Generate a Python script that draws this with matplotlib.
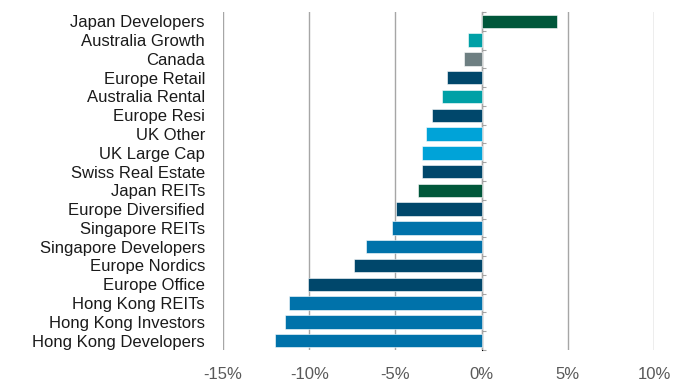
import matplotlib
matplotlib.use("Agg")
import matplotlib.pyplot as plt
from matplotlib.ticker import FuncFormatter

categories = [
    "Japan Developers", "Australia Growth", "Canada", "Europe Retail",
    "Australia Rental", "Europe Resi", "UK Other", "UK Large Cap",
    "Swiss Real Estate", "Japan REITs", "Europe Diversified", "Singapore REITs",
    "Singapore Developers", "Europe Nordics", "Europe Office", "Hong Kong REITs",
    "Hong Kong Investors", "Hong Kong Developers",
]
values = [4.4, -0.8, -1.0, -2.0, -2.3, -2.9, -3.2, -3.45, -3.45, -3.7,
          -4.95, -5.2, -6.7, -7.4, -10.05, -11.2, -11.4, -12.0]

GREEN = "#00573A"
TEAL = "#00A0A6"
GREY = "#6E7F82"
NAVY = "#00476B"
LIGHT = "#00A3D8"
MID = "#0072AA"
colors = [GREEN, TEAL, GREY, NAVY, TEAL, NAVY, LIGHT, LIGHT, NAVY, GREEN,
          NAVY, MID, MID, NAVY, NAVY, MID, MID, MID]

x_ticks = [-15, -10, -5, 0, 5, 10]

plt.rcParams["font.family"] = ["Liberation Sans", "DejaVu Sans"]

fig = plt.figure(figsize=(6.89, 3.83), dpi=100)
ax = fig.add_axes([0.3237, 0.0862, 0.6255, 0.8825])

pos = list(range(len(categories)))
ax.barh(pos, values, height=0.72, color=colors, edgecolor="white",
        linewidth=0.4, zorder=3)

ax.set_xlim(-15, 10)
ax.set_ylim(len(categories) - 0.5, -0.5)
ax.set_xticks(x_ticks)
ax.xaxis.set_major_formatter(FuncFormatter(lambda v, p: f"{v:.0f}%"))
ax.grid(axis="x", color="#A6A6A6", linewidth=1.0, zorder=0)
ax.tick_params(axis="x", length=0, pad=12, labelsize=12, labelcolor="#595959")

ax.set_yticks(pos)
ax.set_yticklabels(categories)
ax.tick_params(axis="y", length=0, pad=13, labelsize=12, labelcolor="#1A1A1A")

for s in ax.spines.values():
    s.set_visible(False)

# category axis sitting on the zero line, with ticks at category boundaries
zero_frac = (0 - x_ticks[0]) / (x_ticks[-1] - x_ticks[0])
sec = ax.secondary_yaxis(zero_frac)
sec.set_yticks([p - 0.5 for p in pos] + [len(pos) - 0.5])
sec.set_yticklabels([])
sec.tick_params(axis="y", length=3, width=0.8, color="#A6A6A6", direction="out")
sec.spines["left"].set_color("#A6A6A6")
sec.spines["left"].set_linewidth(1.0)

fig.savefig("out.png", dpi=100)
